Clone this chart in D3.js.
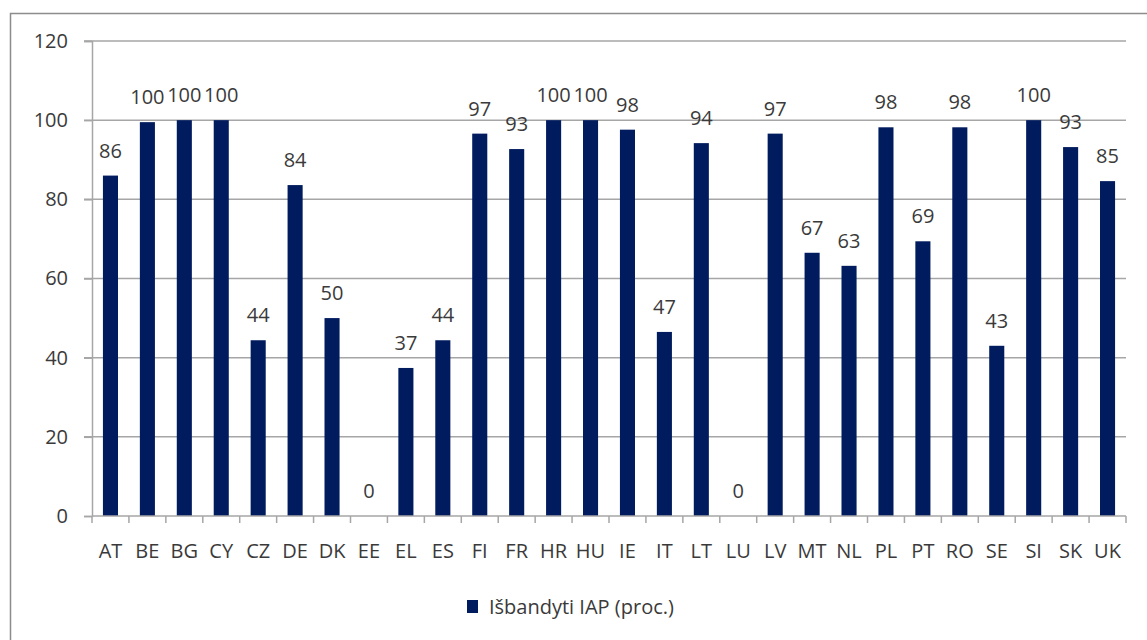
<!DOCTYPE html>
<html>
<head>
<meta charset="utf-8">
<script src="https://cdn.jsdelivr.net/npm/d3@7"></script>
<style>
  html, body { margin: 0; padding: 0; background: #fff; }
  svg { display: block; }
  text { font-family: "Open Sans", sans-serif; }
</style>
</head>
<body>
<svg id="chart" width="1147" height="640"></svg>
<script>
const categories = ["AT","BE","BG","CY","CZ","DE","DK","EE","EL","ES","FI","FR","HR","HU","IE","IT","LT","LU","LV","MT","NL","PL","PT","RO","SE","SI","SK","UK"];
const values = [86, 99.5, 100, 100, 44.4, 83.6, 50, 0, 37.4, 44.4, 96.6, 92.7, 100, 100, 97.6, 46.5, 94.2, 0, 96.6, 66.5, 63.2, 98.2, 69.4, 98.2, 43, 100, 93.2, 84.6];
const yTicks = [0, 20, 40, 60, 80, 100, 120];
const seriesName = "Išbandyti IAP (proc.)";

const svg = d3.select("#chart");
const plot = { left: 92, right: 1126, top: 41, bottom: 516 };
const textColor = "#3a3a3a";
const barColor = "#001b5e";
const gridColor = "#a6a6a6";

// outer border
svg.append("rect")
  .attr("x", 10.5).attr("y", 13.5)
  .attr("width", 1160).attr("height", 660)
  .attr("fill", "none").attr("stroke", "#8c8c8c").attr("stroke-width", 1.5);

const x = d3.scaleBand().domain(categories).range([plot.left, plot.right]).paddingInner(0).paddingOuter(0);
const y = d3.scaleLinear().domain([0, 120]).range([plot.bottom, plot.top]);

// gridlines
svg.append("g").selectAll("line").data(yTicks.filter(d => d > 0)).join("line")
  .attr("x1", plot.left - 8).attr("x2", plot.right)
  .attr("y1", d => y(d)).attr("y2", d => y(d))
  .attr("stroke", gridColor).attr("stroke-width", 1.5);

// y axis
const yAxis = d3.axisLeft(y).tickValues(yTicks).tickSize(8).tickPadding(16).tickFormat(d3.format("d"));
const gy = svg.append("g").attr("transform", `translate(${plot.left},0)`).call(yAxis);
gy.select(".domain").attr("stroke", gridColor).attr("stroke-width", 1.5);
gy.selectAll(".tick line").attr("stroke", gridColor).attr("stroke-width", 1.5);
gy.selectAll(".tick text").attr("fill", textColor).attr("font-size", 20).attr("font-family", "Open Sans, sans-serif");

// bars
const barW = x.bandwidth() / 2.45;
svg.append("g").selectAll("rect").data(categories).join("rect")
  .attr("x", (d) => x(d) + (x.bandwidth() - barW) / 2)
  .attr("y", (d, i) => y(values[i]))
  .attr("width", barW)
  .attr("height", (d, i) => y(0) - y(values[i]))
  .attr("fill", barColor);

// x axis
const gx = svg.append("g").attr("transform", `translate(0,${plot.bottom})`);
gx.append("line").attr("x1", plot.left).attr("x2", plot.right).attr("y1", 0).attr("y2", 0)
  .attr("stroke", gridColor).attr("stroke-width", 1.5);
const tickPos = categories.map(c => x(c)).concat([plot.right]);
gx.selectAll("line.t").data(tickPos).join("line").attr("class", "t")
  .attr("x1", d => d).attr("x2", d => d).attr("y1", 0).attr("y2", 7)
  .attr("stroke", gridColor).attr("stroke-width", 1.5);
gx.selectAll("text").data(categories).join("text")
  .attr("x", d => x(d) + x.bandwidth() / 2)
  .attr("y", 42)
  .attr("text-anchor", "middle")
  .attr("fill", textColor).attr("font-size", 20)
  .text(d => d);

// data labels
svg.append("g").selectAll("text").data(categories).join("text")
  .attr("x", d => x(d) + x.bandwidth() / 2)
  .attr("y", (d, i) => y(values[i]) - 18)
  .attr("text-anchor", "middle")
  .attr("fill", textColor).attr("font-size", 20)
  .text((d, i) => Math.round(values[i]));

// legend
const lg = svg.append("g");
lg.append("rect").attr("x", 467).attr("y", 600).attr("width", 11).attr("height", 13).attr("fill", barColor);
lg.append("text").attr("x", 489).attr("y", 614).attr("fill", textColor).attr("font-size", 20).text(seriesName);
</script>
</body>
</html>
